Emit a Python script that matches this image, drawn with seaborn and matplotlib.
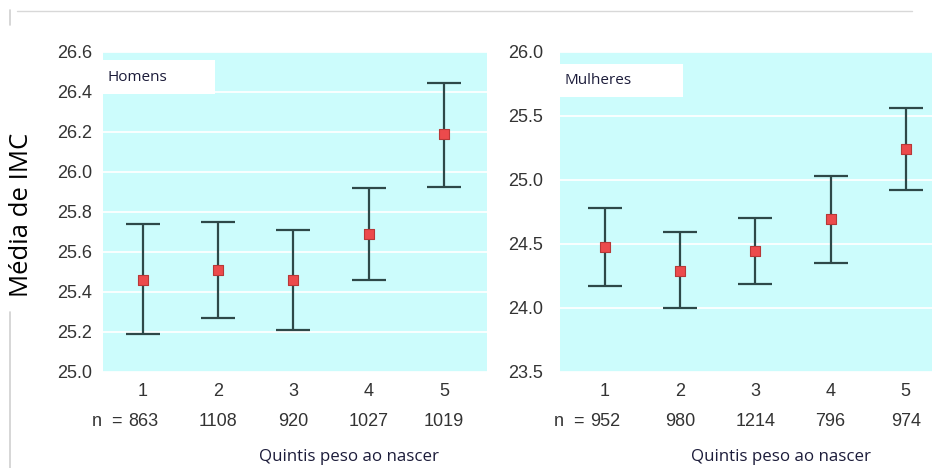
import numpy as np
import pandas as pd
import matplotlib
matplotlib.use("Agg")
import matplotlib.pyplot as plt
from matplotlib.lines import Line2D
import seaborn as sns

# ---- data ----
quintis = [1, 2, 3, 4, 5]
homens_n = [863, 1108, 920, 1027, 1019]
homens_media = [25.46, 25.51, 25.46, 25.69, 26.19]
homens_inf = [25.19, 25.27, 25.21, 25.46, 25.925]
homens_sup = [25.74, 25.75, 25.71, 25.92, 26.445]

mulheres_n = [952, 980, 1214, 796, 974]
mulheres_media = [24.48, 24.29, 24.445, 24.695, 25.24]
mulheres_inf = [24.17, 24.00, 24.19, 24.35, 24.92]
mulheres_sup = [24.78, 24.59, 24.70, 25.03, 25.56]

homens_yticks = [25.0, 25.2, 25.4, 25.6, 25.8, 26.0, 26.2, 26.4, 26.6]
mulheres_yticks = [23.5, 24.0, 24.5, 25.0, 25.5, 26.0]

sns.set_theme(style="white")
plt.rcParams['font.family'] = ['Liberation Sans', 'DejaVu Sans']

W, H = 932, 468
fig = plt.figure(figsize=(W / 100, H / 100), dpi=100)

BG = '#CCFCFC'
ERR = '#2E4848'
TICKC = '#333333'
TXTC = '#1c1c3a'


def panel(rect, media, inf, sup, ns, yticks, ylim, xlim, label, ylabpad,
          box, texty):
    ax = fig.add_axes(rect)
    ax.set_facecolor(BG)
    df = pd.DataFrame({'q': quintis, 'm': media, 'lo': inf, 'hi': sup})
    err = np.vstack([df['m'] - df['lo'], df['hi'] - df['m']])
    ax.errorbar(df['q'], df['m'], yerr=err, fmt='none', ecolor=ERR,
                elinewidth=1.6, capsize=12.5, capthick=1.6, zorder=3)
    sns.scatterplot(data=df, x='q', y='m', marker='s', s=46, color='#EC4A4C',
                    edgecolor='#B83838', linewidth=0.8, ax=ax, zorder=4)
    ax.set_xlim(*xlim)
    ax.set_ylim(*ylim)
    ax.set_yticks(yticks)
    ax.set_yticklabels([f'{v:.1f}' for v in yticks])
    ax.set_xticks(quintis)
    ax.set_xticklabels([str(q) for q in quintis])
    ax.grid(axis='y', color='white', linewidth=1.4, alpha=0.9)
    ax.grid(axis='x', visible=False)
    ax.set_axisbelow(True)
    for s in ax.spines.values():
        s.set_visible(False)
    ax.tick_params(axis='both', length=0, labelsize=13, labelcolor=TICKC)
    ax.tick_params(axis='y', pad=ylabpad)
    ax.tick_params(axis='x', pad=8)
    ax.set_xlabel('')
    ax.set_ylabel('')
    trans = ax.get_xaxis_transform()
    for q, n in zip(quintis, ns):
        ax.text(q, -0.155, str(n), transform=trans, ha='center', va='center',
                fontsize=13, color=TICKC)
    ax.text(quintis[0] - 0.27, -0.155, 'n  =', transform=trans, ha='right',
            va='center', fontsize=13, color=TICKC)
    # label box
    bx0, by0, bw, bh = box
    ax.add_patch(plt.Rectangle((bx0, by0), bw, bh, transform=ax.transAxes,
                               facecolor='white', edgecolor='none', zorder=4))
    ax.text(0.012, texty, label, transform=ax.transAxes, ha='left',
            va='center', fontsize=11, family=['Open Sans', 'DejaVu Sans'],
            color=TXTC, zorder=5)
    return ax


axL = panel([103 / W, 96 / H, 384 / W, 320 / H], homens_media, homens_inf,
            homens_sup, homens_n, homens_yticks, (25.0, 26.6), (0.47, 5.57),
            'Homens', 8, (0.0, 0.869, 0.292, 0.106), 0.919)
axR = panel([560 / W, 96 / H, 372 / W, 320 / H], mulheres_media, mulheres_inf,
            mulheres_sup, mulheres_n, mulheres_yticks, (23.5, 26.0), (0.4, 5.35),
            'Mulheres', 12, (0.0, 0.86, 0.33, 0.103), 0.912)

fig.text(22 / W, 1 - 215 / H, 'Média de IMC', rotation=90, ha='center',
         va='center', fontsize=18.5, family=['Open Sans', 'DejaVu Sans'],
         color='black')
fig.text(349 / W, 1 - 457 / H, 'Quintis peso ao nascer', ha='center',
         va='center', fontsize=12.2, family=['Open Sans', 'DejaVu Sans'], color=TXTC)
fig.text(781 / W, 1 - 457 / H, 'Quintis peso ao nascer', ha='center',
         va='center', fontsize=12.2, family=['Open Sans', 'DejaVu Sans'], color=TXTC)

# screenshot frame lines
fig.add_artist(Line2D([17 / W, 912 / W], [1 - 11 / H, 1 - 11 / H],
                      color='#d8d8d8', lw=1, transform=fig.transFigure))
fig.add_artist(Line2D([10 / W, 10 / W], [1 - 10 / H, 1 - 25 / H],
                      color='#d0d0d0', lw=1.2, transform=fig.transFigure))
fig.add_artist(Line2D([10 / W, 10 / W], [1 - 312 / H, 0], color='#d0d0d0',
                      lw=1.2, transform=fig.transFigure))

fig.savefig('out.png', dpi=100, facecolor='white')
